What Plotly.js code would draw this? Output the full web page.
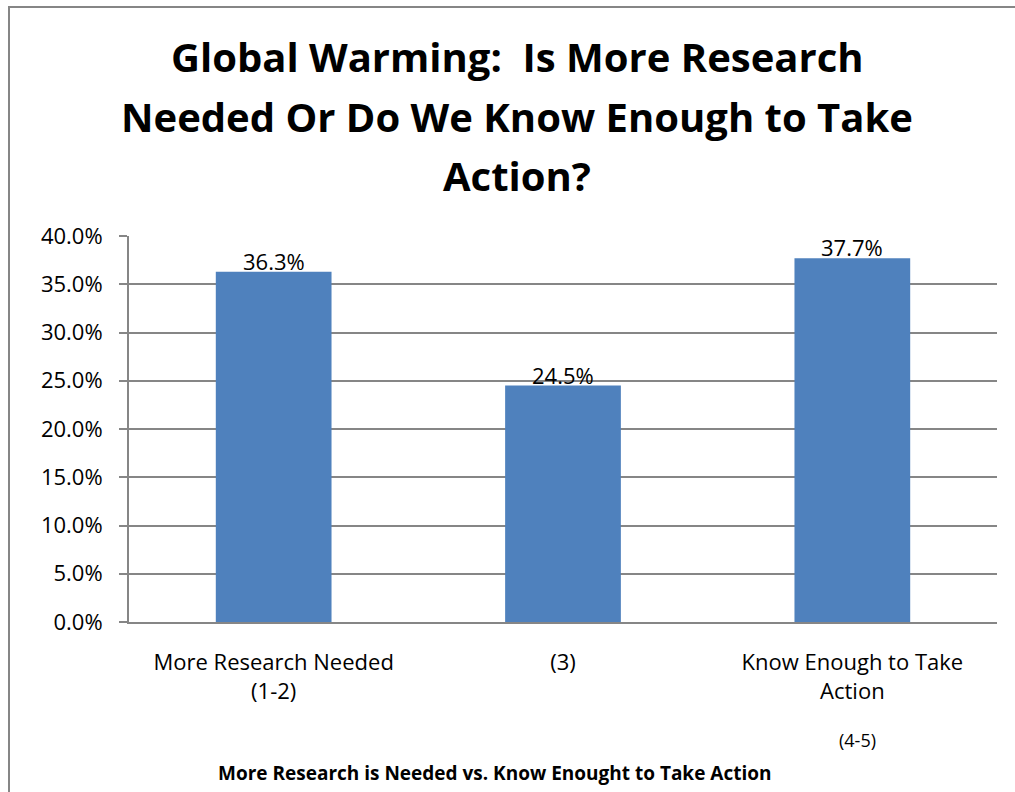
<!DOCTYPE html>
<html>
<head>
<meta charset="utf-8">
<script src="https://cdn.plot.ly/plotly-3.0.1.min.js"></script>
<style>
  html, body { margin: 0; padding: 0; background: #fff; }
  #wrap { position: relative; width: 1015px; height: 792px; overflow: hidden; }
  #chart { position: absolute; left: 0; top: 0; width: 1015px; height: 792px; }
  #frame { position: absolute; left: 8px; top: 6px; width: 1100px; height: 900px;
           border-left: 2px solid #868686; border-top: 2px solid #868686; pointer-events: none; }
</style>
</head>
<body>
<div id="wrap">
  <div id="chart"></div>
  <div id="frame"></div>
</div>
<script>
const categories = ["More Research Needed (1-2)", "(3)", "Know Enough to Take Action (4-5)"];
const tickLabels = ["More Research Needed<br>(1-2)", "(3)", "Know Enough to Take<br>Action"];
const extraTickLine = "(4-5)";
const values = [0.363, 0.245, 0.377];
const valueLabels = ["36.3%", "24.5%", "37.7%"];
const yTicks = [0, 0.05, 0.10, 0.15, 0.20, 0.25, 0.30, 0.35, 0.40];
const titleLines = ["Global Warming:  Is More Research", "Needed Or Do We Know Enough to Take", "Action?"];
const xTitle = "More Research is Needed vs. Know Enought to Take Action";

const FONT = "Open Sans, Liberation Sans, sans-serif";

// plot area geometry (pixels) for converting text positions to paper coords
const PL = 129, PR = 997, PT = 236, PB = 622;
const px = v => (v - PL) / (PR - PL);
const py = v => (PB - v) / (PB - PT);

const trace = {
  type: "bar",
  x: categories,
  y: values,
  marker: { color: "#4F81BD", line: { width: 0 } },
  width: 0.4,
  hoverinfo: "none"
};

const annotations = [];
// data labels
categories.forEach((c, i) => {
  annotations.push({
    x: c, y: values[i], xref: "x", yref: "y",
    text: valueLabels[i], showarrow: false,
    yanchor: "bottom", yshift: -6,
    font: { family: FONT, size: 22, color: "#000" }
  });
});
// title lines
const titleY = [57, 116, 175];
titleLines.forEach((t, i) => {
  annotations.push({
    x: px(517), y: py(titleY[i]), xref: "paper", yref: "paper",
    text: t, showarrow: false, xanchor: "center", yanchor: "middle",
    font: { family: FONT, size: 40, color: "#000", weight: "bold" }
  });
});
// third line of last tick label
annotations.push({
  x: categories[2], y: py(740), xref: "x", yref: "paper",
  text: extraTickLine, showarrow: false, xshift: 5, yanchor: "middle",
  font: { family: FONT, size: 18, color: "#000" }
});
// x-axis title
annotations.push({
  x: px(495), y: py(773), xref: "paper", yref: "paper",
  text: xTitle, showarrow: false, xanchor: "center", yanchor: "middle",
  font: { family: FONT, size: 19, color: "#000", weight: "bold" }
});

const layout = {
  width: 1015,
  height: 792,
  paper_bgcolor: "rgba(0,0,0,0)",
  plot_bgcolor: "#fff",
  margin: { l: PL, r: 1015 - PR, t: PT, b: 792 - PB },
  showlegend: false,
  xaxis: {
    type: "category",
    tickmode: "array",
    tickvals: categories,
    ticktext: tickLabels,
    tickfont: { family: FONT, size: 22, color: "#000" },
    ticklabelstandoff: 20,
    showline: true, linecolor: "#868686", linewidth: 2,
    ticks: "", showgrid: false,
    automargin: false
  },
  yaxis: {
    range: [0, 0.40],
    tickmode: "array",
    tickvals: yTicks,
    tickformat: ".1%",
    tickfont: { family: FONT, size: 22, color: "#000" },
    ticklabelstandoff: 12,
    showgrid: true, gridcolor: "#868686", gridwidth: 2,
    showline: true, linecolor: "#868686", linewidth: 2,
    ticks: "outside", ticklen: 8, tickcolor: "#868686", tickwidth: 2,
    zeroline: false,
    automargin: false
  },
  annotations: annotations
};

Plotly.newPlot("chart", [trace], layout, { displayModeBar: false, staticPlot: true });
</script>
</body>
</html>
